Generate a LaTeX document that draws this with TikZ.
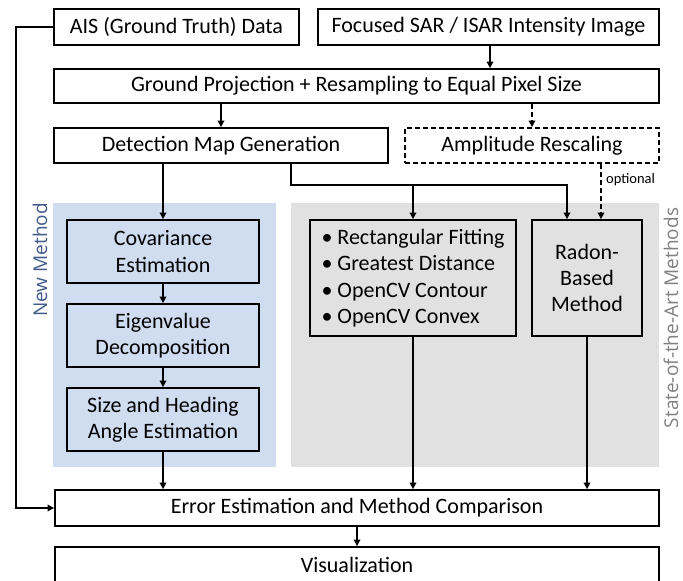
\documentclass[tikz,border=0pt]{standalone}
\usepackage{fontspec}
\setmainfont{Carlito}
\newfontfamily\osans{Open Sans}
\usetikzlibrary{arrows.meta,calc}
\definecolor{bluebg}{HTML}{D0DCEF}
\definecolor{graybg}{HTML}{E1E1E1}
\definecolor{bluetxt}{HTML}{3D5A8A}
\definecolor{graytxt}{HTML}{808080}
\begin{document}
\begin{tikzpicture}[x=1pt,y=-1pt,
  box/.style={draw=black,line width=1.8pt,inner sep=0pt,align=center,
    font=\fontsize{22}{26.3}\selectfont},
  conn/.style={line width=1.8pt,-{Triangle[length=6.5pt,width=6.5pt]}},
  branch/.style={line width=2.8pt,-{Triangle[length=6.5pt,width=6.5pt]}},
  dashes/.style={dash pattern=on 5pt off 3pt},
  sidelabel/.style={rotate=90,inner sep=0pt,font=\osans\fontsize{19}{22}\selectfont}]
\useasboundingbox (0,0) rectangle (683,581);
% backgrounds
\fill[bluebg] (53,203) rectangle (276,467);
\fill[graybg] (291,203) rectangle (659,467);
\node[sidelabel,text=bluetxt] (nm) at (40,260) {New Method};
\node[sidelabel,text=graytxt] (sota) at (671,318) {State-of-the-Art Methods};
% boxes
\node[box,fill=white,minimum width=245pt,minimum height=36pt] (ais) at (176.5,27) {AIS (Ground Truth) Data};
\node[box,fill=white,minimum width=341pt,minimum height=36pt] (foc) at (488.5,27) {Focused SAR / ISAR Intensity Image};
\node[box,fill=white,minimum width=605pt,minimum height=34pt] (gp) at (356.5,86) {Ground Projection + Resampling to Equal Pixel Size};
\node[box,fill=white,minimum width=334pt,minimum height=35pt] (det) at (221,145.5) {Detection Map Generation};
\node[box,fill=white,dashes,minimum width=254pt,minimum height=35pt] (amp) at (532,145.5) {Amplitude Rescaling};
\node[box,fill=bluebg,minimum width=192pt,minimum height=63pt] (cov) at (163,251.5) {Covariance\\Estimation};
\node[box,fill=bluebg,minimum width=192pt,minimum height=63pt] (eig) at (163,335.5) {Eigenvalue\\Decomposition};
\node[box,fill=bluebg,minimum width=192pt,minimum height=63pt] (siz) at (163,419.5) {Size and Heading\\Angle Estimation};
\node[box,fill=graybg,align=left,minimum width=206pt,minimum height=116pt] (bul) at (413,278) {\textbullet\ Rectangular Fitting\\\textbullet\ Greatest Distance\\\textbullet\ OpenCV Contour\\\textbullet\ OpenCV Convex};
\node[box,fill=graybg,minimum width=110pt,minimum height=116pt] (rad) at (587,278) {Radon-\\Based\\Method};
\node[box,fill=white,minimum width=604pt,minimum height=36pt] (err) at (357,508) {Error Estimation and Method Comparison};
\node[box,fill=white,minimum width=604pt,minimum height=36pt] (vis) at (357,565) {Visualization};
\node[anchor=west,inner sep=0pt,font=\fontsize{14.5}{16}\selectfont] (opt) at (606,180) {optional};
% helper coordinates
\coordinate (br) at (291,185);
\coordinate (rin) at ([xshift=-20pt]rad.north);
\coordinate (oin) at ([xshift=14pt]rad.north);
% connectors
\draw[conn] ([xshift=1.5pt]foc.south) -- ([xshift=1.5pt]foc.south |- gp.north);
\draw[conn] (det.north |- gp.south) -- (det.north);
\draw[conn,dashes] (amp.north |- gp.south) -- (amp.north);
\draw[conn] (det.south -| cov.north) -- (cov.north);
\draw[branch] (det.south -| br) -- (br) -| (rin);
\draw[branch] (bul.north |- br) -- (bul.north);
\draw[conn,dashes] (amp.south -| oin) -- (oin);
\draw[conn] (cov) -- (eig);
\draw[conn] (eig) -- (siz);
\draw[conn] (siz.south) -- (siz.south |- err.north);
\draw[conn] (bul.south) -- (bul.south |- err.north);
\draw[conn] (rad.south) -- (rad.south |- err.north);
\draw[conn] (ais.west) -- ++(-37,0) |- (err.west);
\draw[conn] (err) -- (vis);
\end{tikzpicture}
\end{document}
